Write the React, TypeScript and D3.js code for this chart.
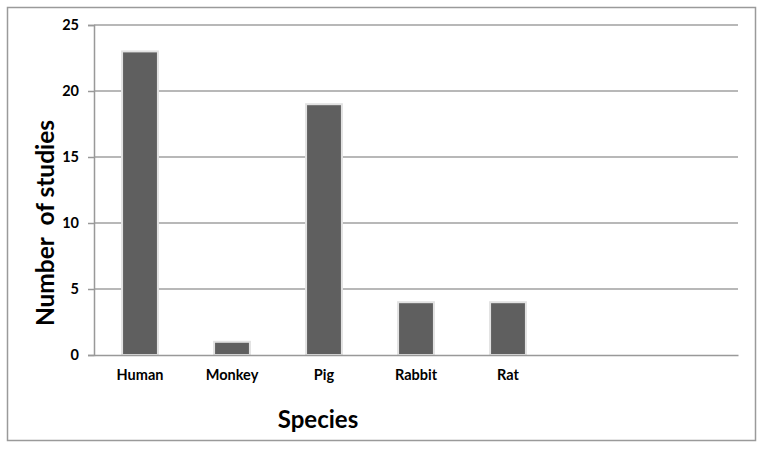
import React, { useEffect, useRef } from "react";
import * as d3 from "d3";

// slots on the x axis (last two are empty in the original)
const species = ["Human", "Monkey", "Pig", "Rabbit", "Rat", "", " "];
const studies = [23, 1, 19, 4, 4, 0, 0];
const yTicks = [0, 5, 10, 15, 20, 25];

const W = 764;
const H = 449;
const margin = { left: 94, right: 26, top: 25, bottom: 94 };
const font = "Lato, 'Open Sans', sans-serif";

const App = () => {
  const ref = useRef<SVGSVGElement>(null);

  useEffect(() => {
    const svg = d3.select(ref.current);
    svg.selectAll("*").remove();

    const x = d3
      .scaleBand()
      .domain(species)
      .range([margin.left, W - margin.right])
      .paddingInner(0.61)
      .paddingOuter(0.305);
    const y = d3
      .scaleLinear()
      .domain([0, 25])
      .range([H - margin.bottom, margin.top]);

    // outer frame
    svg
      .append("rect")
      .attr("x", 7.5)
      .attr("y", 7.5)
      .attr("width", 748)
      .attr("height", 433)
      .attr("fill", "white")
      .attr("stroke", "#9a9a9a")
      .attr("stroke-width", 1.5);

    // gridlines
    svg
      .append("g")
      .selectAll("line")
      .data(yTicks.slice(1))
      .join("line")
      .attr("x1", margin.left)
      .attr("x2", W - margin.right)
      .attr("y1", (d) => y(d))
      .attr("y2", (d) => y(d))
      .attr("stroke", "#a0a0a0")
      .attr("stroke-width", 1.5);

    // bars with light halo
    svg
      .append("g")
      .selectAll("rect")
      .data(species.filter((_, i) => studies[i] > 0))
      .join("rect")
      .attr("x", (d) => x(d)!)
      .attr("y", (d) => y(studies[species.indexOf(d)]))
      .attr("width", x.bandwidth())
      .attr("height", (d) => y(0) - y(studies[species.indexOf(d)]))
      .attr("fill", "#5f5f5f")
      .attr("stroke", "#e2e2e2")
      .attr("stroke-width", 2);

    // y axis
    const yAxis = svg
      .append("g")
      .attr("transform", `translate(${margin.left},0)`)
      .call(d3.axisLeft(y).tickValues(yTicks).tickSize(6).tickPadding(9));
    yAxis.select(".domain").attr("stroke", "#999").attr("stroke-width", 1.5);
    yAxis.selectAll(".tick line").attr("stroke", "#999").attr("stroke-width", 1.5);
    yAxis
      .selectAll(".tick text")
      .attr("font-family", font)
      .attr("font-weight", "bold")
      .attr("font-size", 14.5)
      .attr("fill", "#000");

    // x axis
    const xAxis = svg
      .append("g")
      .attr("transform", `translate(0,${y(0)})`)
      .call(d3.axisBottom(x).tickSize(0).tickPadding(15));
    xAxis.select(".domain").attr("stroke", "#999").attr("stroke-width", 1.5);
    xAxis
      .selectAll(".tick text")
      .attr("font-family", font)
      .attr("font-weight", "bold")
      .attr("font-size", 14.5)
      .attr("fill", "#000");

    // titles
    svg
      .append("text")
      .attr("x", 318)
      .attr("y", 428)
      .attr("text-anchor", "middle")
      .attr("font-family", font)
      .attr("font-weight", "bold")
      .attr("font-size", 24)
      .text("Species");

    svg
      .append("text")
      .attr("transform", `translate(54,223) rotate(-90)`)
      .attr("text-anchor", "middle")
      .attr("font-family", font)
      .attr("font-weight", "bold")
      .attr("font-size", 24.5)
      .style("white-space", "pre")
      .text("Number  of studies");
  }, []);

  return (
    <svg
      ref={ref}
      width={W}
      height={H}
      style={{ position: "absolute", left: 0, top: 0 }}
    />
  );
};

export default App;
